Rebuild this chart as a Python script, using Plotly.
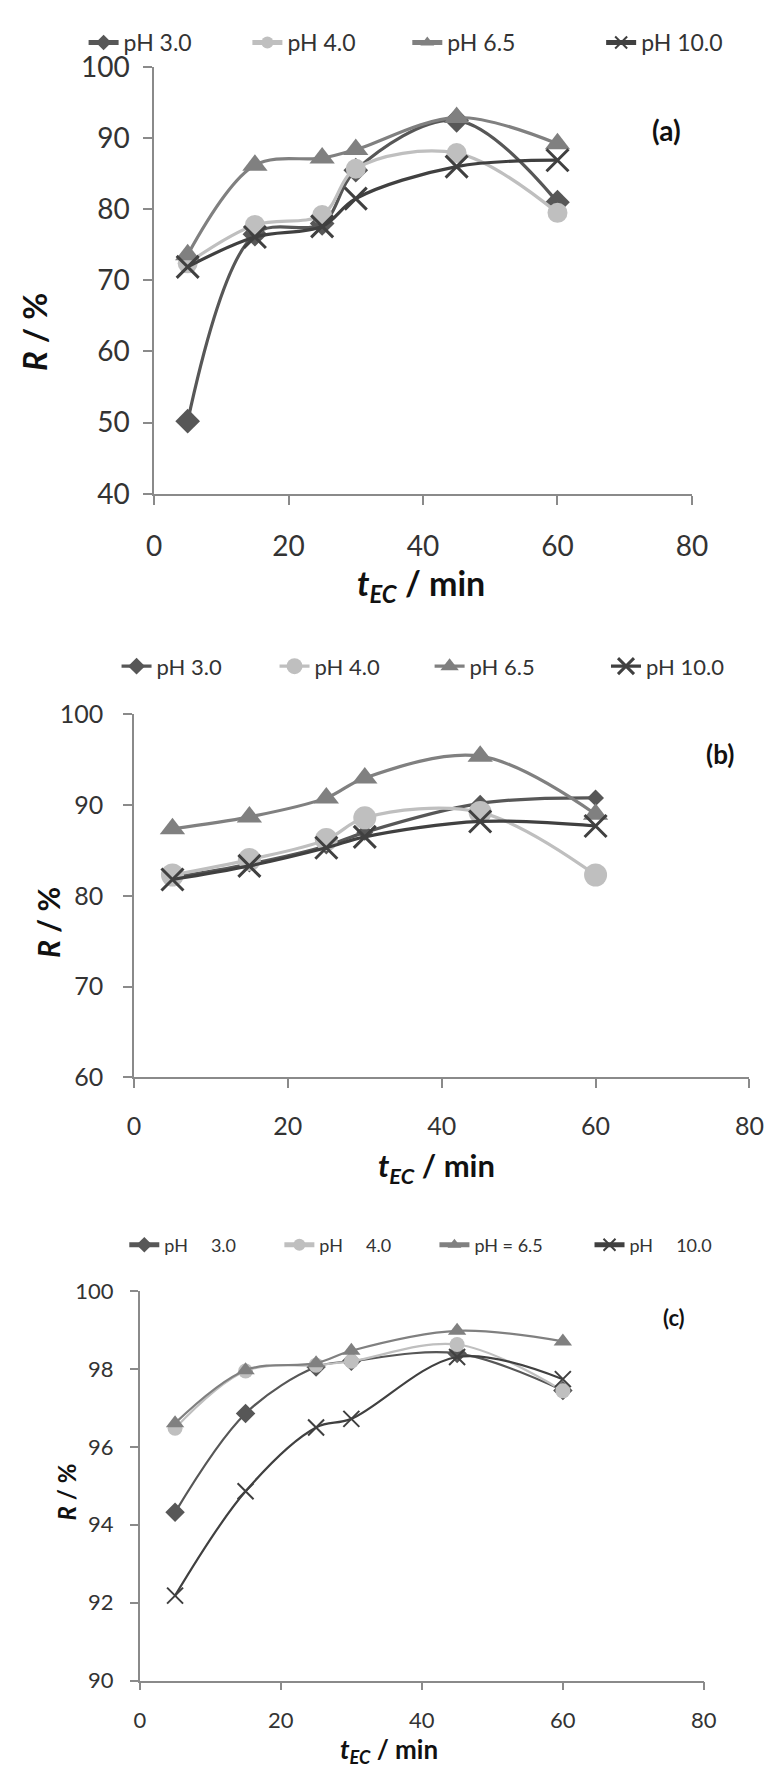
import plotly.graph_objects as go

W, H = 779, 1776

t_ec = [5, 15, 25, 30, 45, 60]
series_names = ["pH 3.0", "pH 4.0", "pH 6.5", "pH 10.0"]
NB = "\u00a0" * 5
series_names_c = ["pH" + NB + "3.0", "pH" + NB + "4.0", "pH = 6.5", "pH" + NB + "10.0"]

a_ph3 = [50.2, 76.5, 78.0, 85.5, 92.5, 81.0]
a_ph4 = [72.4, 77.8, 79.2, 85.7, 87.9, 79.5]
a_ph65 = [73.6, 86.2, 87.2, 88.4, 92.9, 89.2]
a_ph10 = [71.9, 76.1, 77.6, 81.5, 86.0, 86.9]

b_ph3 = [82.0, 83.5, 85.5, 87.0, 90.2, 90.8]
b_ph4 = [82.3, 84.0, 86.2, 88.6, 89.2, 82.3]
b_ph65 = [87.4, 88.7, 90.8, 93.0, 95.4, 89.0]
b_ph10 = [81.8, 83.3, 85.3, 86.5, 88.2, 87.7]

c_ph3 = [94.32, 96.86, 98.05, 98.2, 98.4, 97.45]
c_ph4 = [96.48, 97.95, 98.1, 98.2, 98.63, 97.44]
c_ph65 = [96.61, 97.97, 98.15, 98.47, 98.98, 98.71]
c_ph10 = [92.18, 94.86, 96.5, 96.72, 98.31, 97.74]

colors = ["#575757", "#bfbfbf", "#808080", "#404040"]
symbols = ["diamond", "circle", "triangle-up", "x-thin"]

FONT = "Lato, Open Sans, sans-serif"
AX_COL = "#8a8a8a"
TXT_COL = "#333333"


def px_x(p):
    return p / W


def px_y(p):
    return 1 - p / H


panels = [
    dict(data=[a_ph3, a_ph4, a_ph65, a_ph10], names=series_names,
         xdom=(150.7, 705.7), ydom=(50, 485), yr=[40, 100], dy=10,
         sizes=[19, 20, 22, 22], xw=3.0, lw=3.2, tickfont=28, ticklen=9,
         ystand=8, xstand=18, legsizing="constant",
         legend_y=25, legend_x=[118, 287, 452, 652], legfont=23,
         tag="(a)", tagpos=(679, 114), tagfont=28,
         xt=(426, 578), xtfont=34, yt=(27, 320), ytfont=33),
    dict(data=[b_ph3, b_ph4, b_ph65, b_ph10], names=series_names,
         xdom=(130, 765), ydom=(710, 1080), yr=[60, 100], dy=10,
         sizes=[13, 23, 22, 22], xw=3.0, lw=3.2, tickfont=25, ticklen=9,
         ystand=15, xstand=17, legsizing="trace",
         legend_y=661, legend_x=[152, 315, 475, 657], legfont=22,
         tag="(b)", tagpos=(735, 750), tagfont=26,
         xt=(442, 1172), xtfont=31, yt=(42, 922), ytfont=30),
    dict(data=[c_ph3, c_ph4, c_ph65, c_ph10], names=series_names_c,
         xdom=(136, 718), ydom=(1298, 1695), yr=[90, 100], dy=2,
         sizes=[15, 15, 16, 16], xw=2.0, lw=2.2, tickfont=22, ticklen=8,
         ystand=12, xstand=11, legsizing="constant",
         legend_y=1251, legend_x=[160, 320, 480, 640], legfont=18,
         tag="(c)", tagpos=(687, 1325), tagfont=22,
         xt=(393, 1766), xtfont=26, yt=(60, 1503), ytfont=24),
]

fig = go.Figure()
layout = dict(width=W, height=H, margin=dict(l=0, r=0, t=0, b=0),
              paper_bgcolor="white", plot_bgcolor="white",
              font=dict(family=FONT, color=TXT_COL), showlegend=True)
annotations = []
leg_idx = 0
for pi, p in enumerate(panels):
    xa = "x" if pi == 0 else f"x{pi+1}"
    ya = "y" if pi == 0 else f"y{pi+1}"
    for si in range(4):
        leg_idx += 1
        lname = "legend" if leg_idx == 1 else f"legend{leg_idx}"
        sym = symbols[si]
        mk = dict(symbol=sym, size=p["sizes"][si], color=colors[si])
        if sym == "x-thin":
            mk["line"] = dict(color=colors[si], width=p["xw"])
        else:
            mk["line"] = dict(width=0)
        fig.add_trace(go.Scatter(
            x=t_ec, y=p["data"][si], name=p["names"][si], mode="lines+markers",
            line=dict(color=colors[si], width=p["lw"], shape="spline", smoothing=1.0),
            marker=mk, xaxis=xa, yaxis=ya, legend=lname))
        layout[lname] = dict(orientation="h", x=px_x(p["legend_x"][si] - 40),
                             y=px_y(p["legend_y"]), xanchor="left", yanchor="middle",
                             bgcolor="rgba(0,0,0,0)", borderwidth=0,
                             font=dict(size=p["legfont"], family=FONT, color=TXT_COL),
                             itemsizing=p["legsizing"])
    xkey = "xaxis" if pi == 0 else f"xaxis{pi+1}"
    ykey = "yaxis" if pi == 0 else f"yaxis{pi+1}"
    layout[xkey] = dict(domain=[px_x(p["xdom"][0]), px_x(p["xdom"][1])], range=[0, 80],
                        dtick=20, tick0=0, anchor=ya, showgrid=False, zeroline=False,
                        showline=True, linecolor=AX_COL, linewidth=1.6,
                        ticks="outside", ticklen=p["ticklen"], tickcolor=AX_COL, tickwidth=1.6,
                        tickfont=dict(size=p["tickfont"], family=FONT, color=TXT_COL),
                        ticklabelstandoff=p["xstand"])
    layout[ykey] = dict(domain=[px_y(p["ydom"][1]), px_y(p["ydom"][0])], range=p["yr"],
                        dtick=p["dy"], tick0=p["yr"][0], anchor=xa, showgrid=False, zeroline=False,
                        showline=True, linecolor=AX_COL, linewidth=1.6,
                        ticks="outside", ticklen=p["ticklen"], tickcolor=AX_COL, tickwidth=1.6,
                        tickfont=dict(size=p["tickfont"], family=FONT, color=TXT_COL),
                        ticklabelstandoff=p["ystand"])
    common = dict(xref="paper", yref="paper", showarrow=False,
                  xanchor="center", yanchor="middle")
    annotations.append(dict(text=f"<b>{p['tag']}</b>", x=px_x(p["tagpos"][0]), y=px_y(p["tagpos"][1]),
                            font=dict(size=p["tagfont"], family=FONT, color="#111111"), **common))
    annotations.append(dict(text="<b><i>t</i></b><sub><b><i>EC</i></b></sub><b> / min</b>",
                            x=px_x(p["xt"][0]), y=px_y(p["xt"][1]),
                            font=dict(size=p["xtfont"], family=FONT, color="#111111"), **common))
    annotations.append(dict(text="<b><i>R</i> / %</b>", textangle=-90,
                            x=px_x(p["yt"][0]), y=px_y(p["yt"][1]),
                            font=dict(size=p["ytfont"], family=FONT, color="#111111"), **common))

layout["annotations"] = annotations
fig.update_layout(**layout)
fig.write_html(
    "out.html",
    config={"displayModeBar": False},
    post_script="document.body.style.margin='0px';document.body.style.overflow='hidden';"
                "document.documentElement.style.overflow='hidden';",
)
